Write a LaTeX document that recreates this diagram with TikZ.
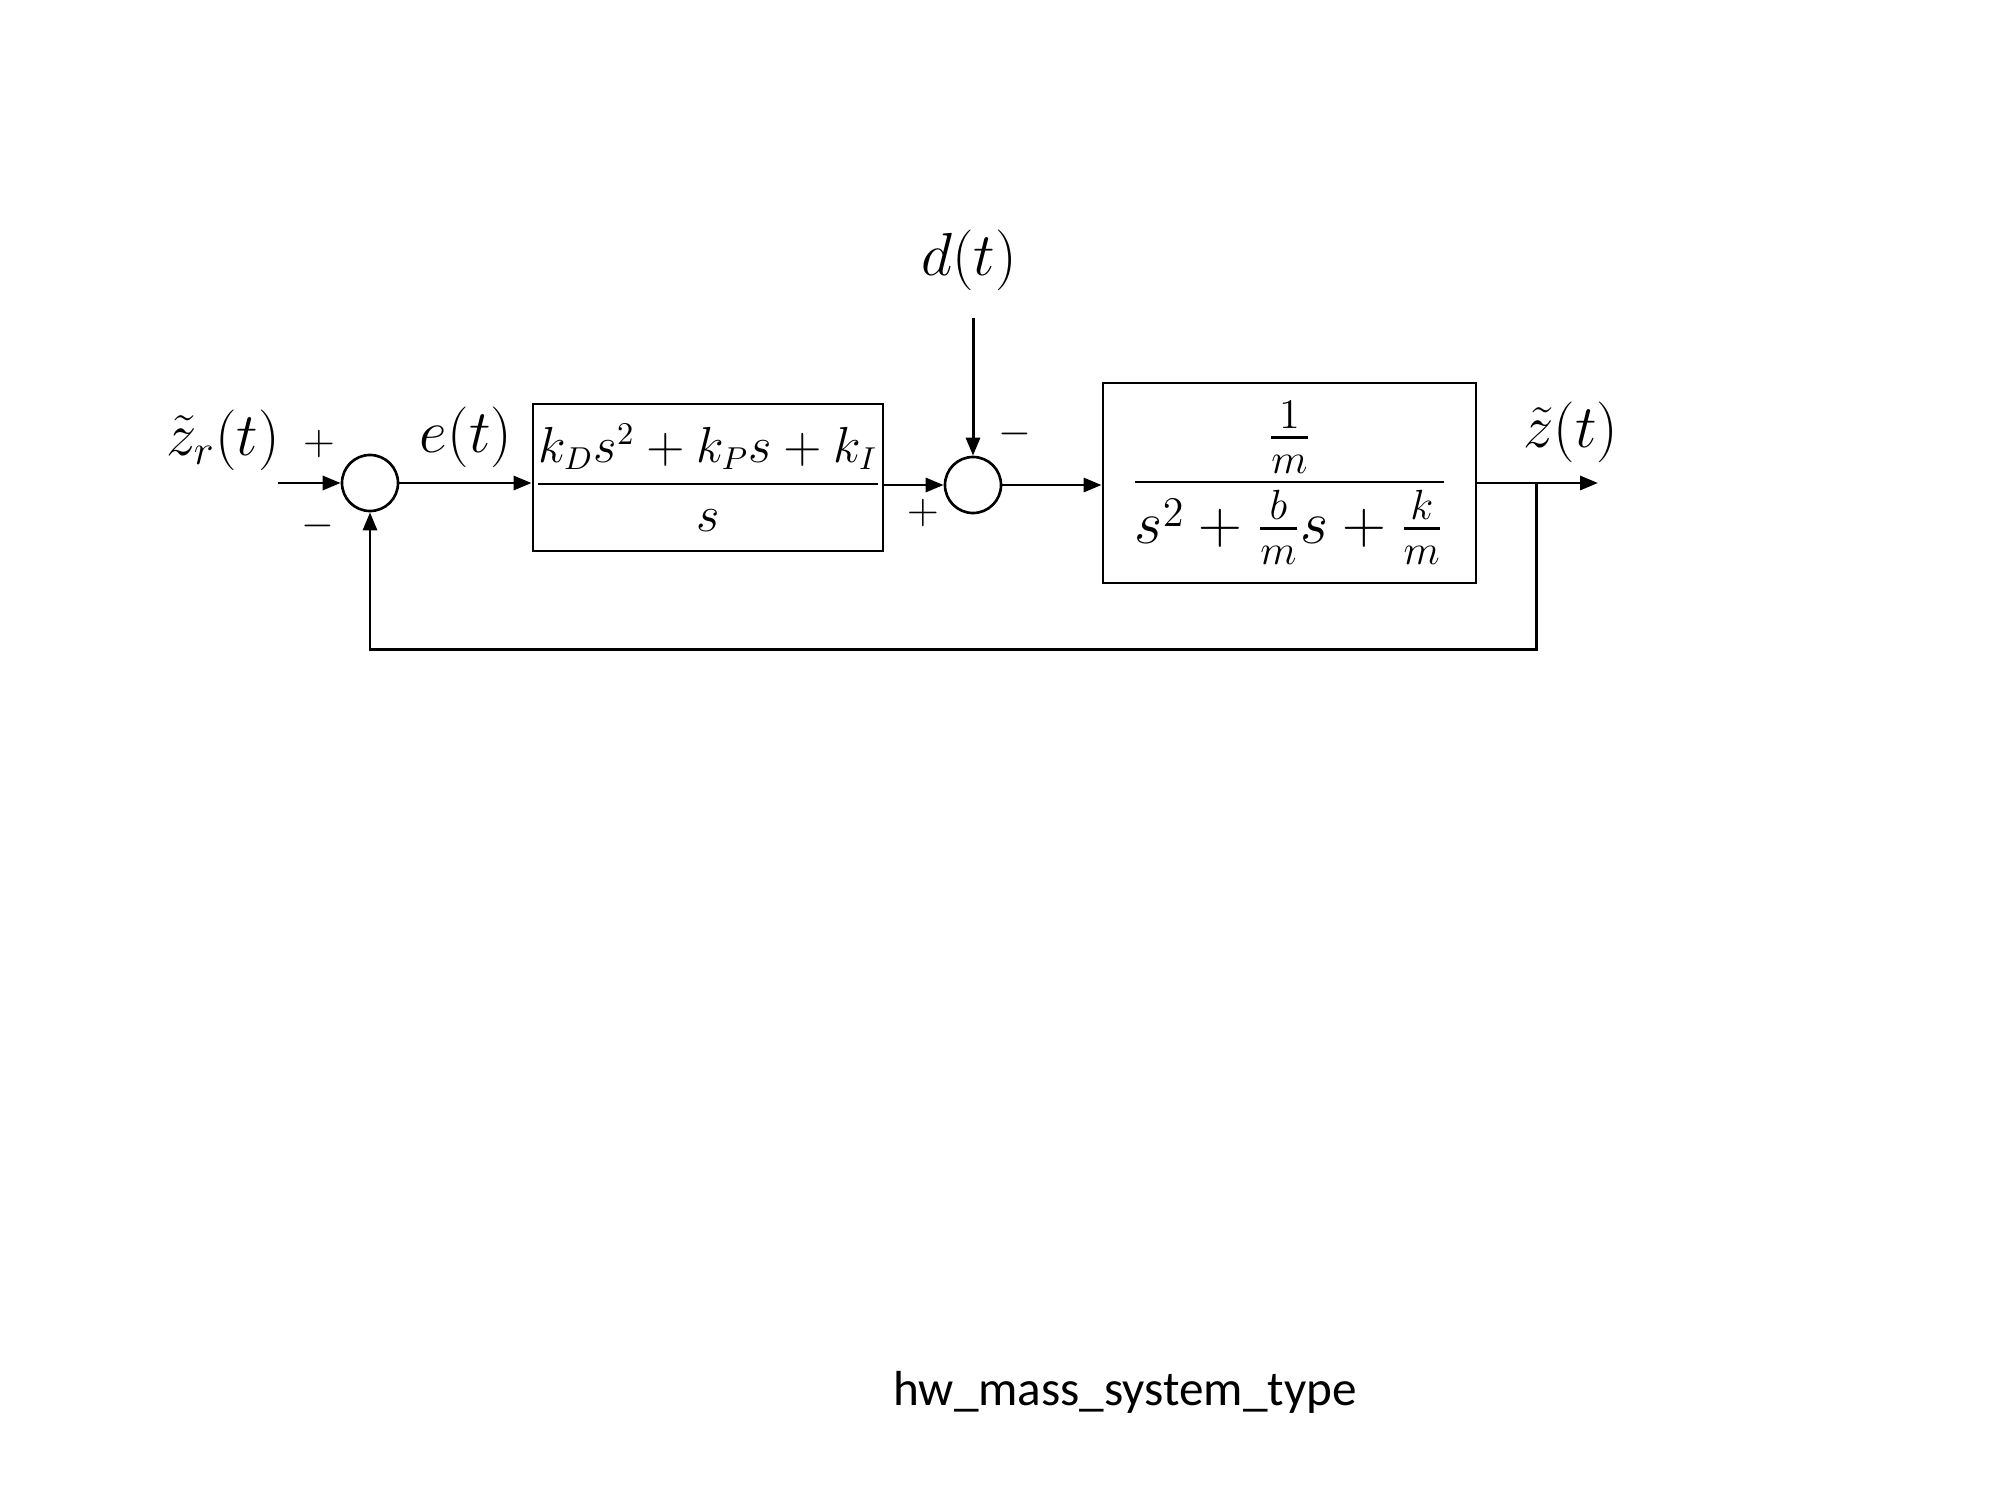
\documentclass[tikz,border=0pt]{standalone}
\usepackage{amsmath}
\usepackage{fontspec}
\newfontfamily\captionfont{Carlito}
\usetikzlibrary{arrows.meta}
\begin{document}
\begin{tikzpicture}[x=0.01cm,y=-0.01cm,
  wire/.style={line width=0.85pt},
  sig/.style={wire,-{Triangle[length=1.8mm,width=1.4mm]}},
  sumnode/.style={circle,draw,line width=0.75pt,minimum size=0.56cm,inner sep=0pt},
  blockbox/.style={rectangle,draw,line width=0.75pt,inner sep=0pt},
  lbl/.style={inner sep=0pt,font=\fontsize{17.5}{20}\selectfont},
  sgn/.style={inner sep=0pt,font=\fontsize{13}{15}\selectfont}]
\useasboundingbox (0,0) rectangle (2000,1500);

% summing junctions
\node[sumnode] (s1) at (370,483) {};
\node[sumnode] (s2) at (973,485) {};

% controller and plant
\node[blockbox,minimum width=3.5cm,minimum height=1.47cm,
      font=\fontsize{13.4}{16}\selectfont] (ctrl) at (708,477.5)
  {\raisebox{-1.0mm}{$\dfrac{k_Ds^2+k_Ps+k_I}{s}$}};
\node[blockbox,minimum width=3.73cm,minimum height=2.0cm,
      font=\fontsize{17.8}{21}\selectfont] (plant) at (1289.5,483)
  {$\dfrac{\frac{1}{m}}{s^2+\frac{b}{m}s+\frac{k}{m}}$};

% signal labels
\node[lbl] (zr) at (223,440) {$\tilde{z}_r(t)$};
\node[lbl] (e) at (466,437) {$e(t)$};
\node[lbl] (d) at (969,260) {$d(t)$};
\node[lbl] (z) at (1571,432) {$\tilde{z}(t)$};

% signs at the junctions
\node[sgn] (p1) at (319,444) {$+$};
\node[sgn] (m1) at (318,526) {$-$};
\node[sgn] (p2) at (923,513) {$+$};
\node[sgn] (m2) at (1015,434) {$-$};

% free ends and branch point
\coordinate (zin) at (278,483);
\coordinate (dtop) at (973,318);
\coordinate (zout) at (1598,483);
\coordinate (br) at (1536,483);
\coordinate (fbr) at (1536,649);
\coordinate (fbl) at (370,649);

% connectors
\draw[sig] (zin) -- (s1.west);
\draw[sig] (s1.east) -- (s1.east -| ctrl.west);
\draw[sig] (ctrl.east |- s2.west) -- (s2.west);
\draw[sig] (dtop) -- (s2.north);
\draw[sig] (s2.east) -- (s2.east -| plant.west);
\draw[sig] (plant.east |- zout) -- (zout);
\draw[sig] (br) -- (fbr) -- (fbl) -- (s1.south);

% caption
\node[inner sep=0pt,font=\captionfont\fontsize{14}{17}\selectfont] (cap) at (1125,1392) {hw\_mass\_system\_type};
\end{tikzpicture}
\end{document}
